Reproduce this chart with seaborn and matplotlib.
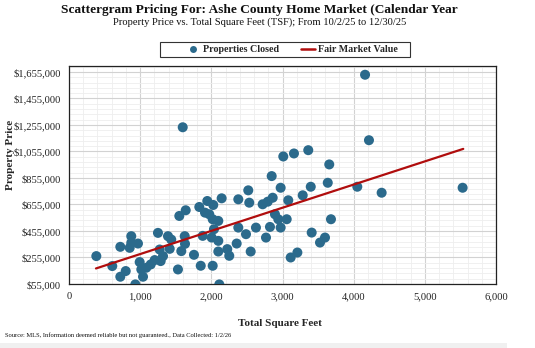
import numpy as np
import pandas as pd
import matplotlib
matplotlib.use("Agg")
import matplotlib.pyplot as plt
from matplotlib.ticker import MultipleLocator, FuncFormatter, FixedLocator
from matplotlib.lines import Line2D
from matplotlib.patches import Rectangle
import seaborn as sns

# Closed sales: total square feet and sale price
sqft = [384, 608, 721, 721, 797, 875, 875, 853, 969, 932,
        993, 1016, 1040, 1086, 1148, 1204, 1250, 1274, 1288, 1321,
        1391, 1437, 1415, 1531, 1578, 1626, 1550, 1640, 1630, 1598,
        1756, 1831, 1879, 1851, 1911, 1943, 1971, 2027, 2019, 2037,
        2005, 2098, 2098, 2019, 2098, 2145, 2112, 2224, 2252, 2356,
        2379, 2379, 2487, 2519, 2533, 2553, 2627, 2721, 2768, 2792,
        2824, 2848, 2862, 2894, 2941, 2974, 2974, 3059, 3081, 3115,
        3011, 3161, 3362, 3657, 4215, 4160, 3284, 3397, 3636, 4051,
        4393, 5531, 3681, 3410, 3527, 3597, 3209]
price = [265500, 190300, 335500, 109900, 152700, 415900, 365500, 327900, 360300, 52000,
         220400, 164800, 109900, 177600, 202400, 235500, 440700, 315200, 227900, 265500,
         415900, 390300, 320400, 164800, 303100, 415900, 568500, 611400, 358000, 1237700,
         275300, 636200, 418200, 192600, 593400, 681300, 581300, 651300, 543700, 468500,
         405400, 531000, 380600, 192600, 300100, 701600, 52000, 318200, 267800, 360300,
         694100, 480600, 431000, 761800, 668600, 300100, 480600, 656500, 405400, 676100,
         485800, 869300, 706100, 581300, 543700, 781300, 480600, 543700, 686600, 255000,
         1017400, 1040000, 1064800, 957300, 1140000, 1634000, 724200, 788900, 818900, 788900,
         743700, 781300, 543700, 443000, 367800, 405400, 292600]

# Fair market value trend line (end points)
fmv_sqft = [379, 5540]
fmv_price = [172300, 1074600]

x_ticks = [0, 1000, 2000, 3000, 4000, 5000, 6000]
y_ticks = [55000, 255000, 455000, 655000, 855000, 1055000, 1255000, 1455000, 1655000]

sales = pd.DataFrame({"sqft": sqft, "price": price})
trend = pd.DataFrame({"sqft": fmv_sqft, "price": fmv_price})

sns.set_style("white")
plt.rcParams["font.family"] = ["Liberation Serif", "DejaVu Serif"]

dot_color = "#2b6a8c"
line_color = "#b00d0d"

W, H = 535, 348
fig = plt.figure(figsize=(W / 100, H / 100), dpi=100)
ax = fig.add_axes([69 / W, 1 - 284 / H, 427 / W, 218 / H])

sns.scatterplot(data=sales, x="sqft", y="price", ax=ax, s=52,
                color=dot_color, edgecolor="none", zorder=3, legend=False)
sns.lineplot(data=trend, x="sqft", y="price", ax=ax, color=line_color,
             linewidth=1.6, zorder=4, legend=False)

ax.set_xlim(0, 6000)
ax.set_ylim(55000, 1700000)
ax.xaxis.set_major_locator(FixedLocator(x_ticks))
ax.xaxis.set_minor_locator(MultipleLocator(200))
ax.yaxis.set_major_locator(FixedLocator(y_ticks))
ax.yaxis.set_minor_locator(FixedLocator(np.arange(55000, 1700001, 40000)))
ax.xaxis.set_major_formatter(FuncFormatter(lambda v, p: f"{int(v):,}"))
ax.yaxis.set_major_formatter(FuncFormatter(lambda v, p: f"${int(v):,}"))

ax.grid(which="major", color="#d2d2d2", linewidth=0.8, zorder=0)
ax.grid(which="minor", color="#eeeeee", linewidth=0.6, zorder=0)
ax.set_axisbelow(True)

for side in ["top", "right", "bottom", "left"]:
    ax.spines[side].set_visible(True)
    ax.spines[side].set_color("#222222")
    ax.spines[side].set_linewidth(0.9)

ax.tick_params(axis="both", which="major", labelsize=7.6, colors="#333333",
               length=3, width=0.6, direction="out", pad=3)
ax.tick_params(axis="both", which="minor", length=2, width=0.5,
               color="#555555", direction="out")
for lab in ax.get_xticklabels() + ax.get_yticklabels():
    lab.set_color("#222222")

ax.set_xlabel("Total Square Feet", fontsize=8, fontweight="bold")
ax.set_ylabel("Property Price", fontsize=8, fontweight="bold")
ax.xaxis.set_label_coords((280 - 69) / 427, (284 - 324) / 218)
ax.yaxis.set_label_coords((10 - 69) / 427, (284 - 155) / 218)
ax.xaxis.label.set_va("center")
ax.yaxis.label.set_va("center")

fig.text(259 / W, 1 - 9.5 / H, "Scattergram Pricing For: Ashe County Home Market (Calendar Year",
         ha="center", va="center", fontsize=9.6, fontweight="bold", color="#111111")
fig.text(260 / W, 1 - 22 / H, "Property Price vs. Total Square Feet (TSF); From 10/2/25 to 12/30/25",
         ha="center", va="center", fontsize=7.6, color="#111111")

# Legend box above the plot area
fig.add_artist(Rectangle((160 / W, 1 - 57 / H), 250 / W, 15 / H, transform=fig.transFigure,
                         facecolor="white", edgecolor="#333333", linewidth=0.8))
handles = [
    Line2D([], [], marker="o", linestyle="none", markersize=5,
           markerfacecolor=dot_color, markeredgecolor="none", label="Properties Closed"),
    Line2D([], [], color=line_color, linewidth=1.8, label="Fair Market Value"),
]
leg = fig.legend(handles=handles, loc="center", bbox_to_anchor=(292 / W, 1 - 49.5 / H),
                 ncol=2, frameon=False, handlelength=1.4,
                 columnspacing=2.2, handletextpad=0.3, borderpad=0.2,
                 prop={"weight": "bold", "size": 7.2})

fig.text(5 / W, 1 - 335 / H,
         "Source: MLS, Information deemed reliable but not guaranteed., Data Collected: 1/2/26",
         ha="left", va="center", fontsize=4.7, color="#111111")

fig.add_artist(Rectangle((0, 0), 507 / W, 5 / H, transform=fig.transFigure,
                         facecolor="#f0f0f0", edgecolor="none"))

fig.savefig("out.png", dpi=100)
